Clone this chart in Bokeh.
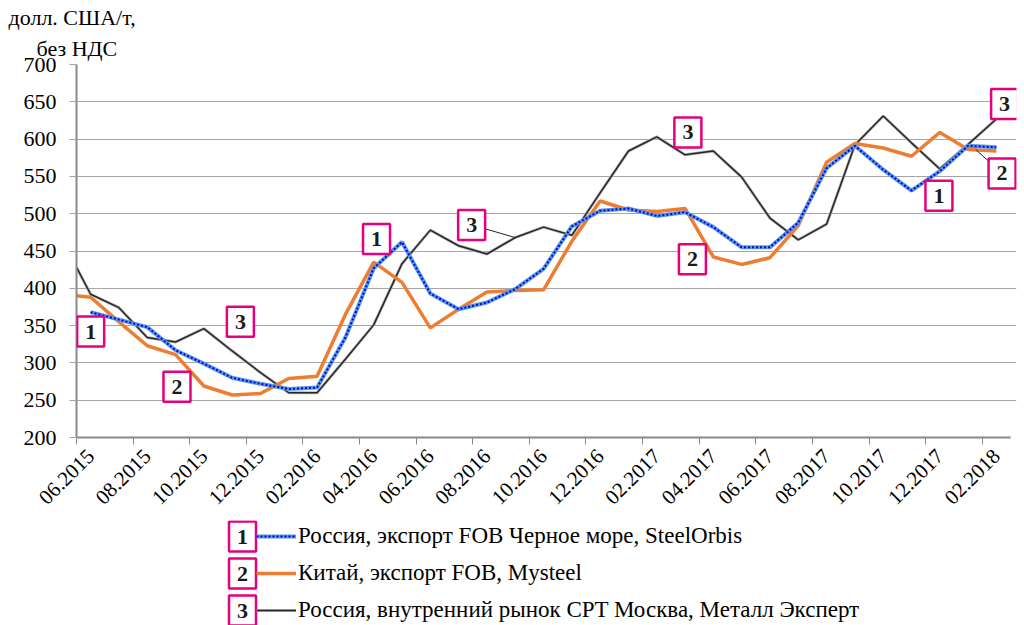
import math
from bokeh.plotting import figure
from bokeh.models import (FixedTicker, Label, Legend, LegendItem, ColumnDataSource, Range1d,
                          Title)
from bokeh.embed import file_html
from bokeh.resources import INLINE

# ---------------- data ----------------
months = ["06.2015", "07.2015", "08.2015", "09.2015", "10.2015", "11.2015", "12.2015",
          "01.2016", "02.2016", "03.2016", "04.2016", "05.2016", "06.2016", "07.2016",
          "08.2016", "09.2016", "10.2016", "11.2016", "12.2016", "01.2017", "02.2017",
          "03.2017", "04.2017", "05.2017", "06.2017", "07.2017", "08.2017", "09.2017",
          "10.2017", "11.2017", "12.2017", "01.2018", "02.2018"]

russia_export = [368, 358, 348, 317, 299, 280, 272, 265, 267, 334, 427, 462, 393, 372, 381,
                 399, 426, 483, 504, 507, 497, 502, 482, 455, 455, 488, 561, 591, 559, 531,
                 557, 591, 589]
china_open = 390
china_export = [388, 355, 323, 311, 269, 257, 259, 279, 282, 365, 435, 408, 347, 372, 395,
                397, 398, 463, 517, 505, 503, 507, 442, 432, 441, 484, 569, 594, 588, 577,
                609, 586, 584]
moscow_open = 428
moscow_domestic = [392, 374, 334, 328, 346, 316, 287, 260, 260, 305, 351, 433, 478, 457, 446,
                   468, 482, 471, 528, 584, 603, 579, 584, 549, 494, 465, 486, 592, 631, 595,
                   560, 593, 627]

series_names = ["Россия, экспорт FOB Черное море, SteelOrbis",
                "Китай, экспорт FOB, Mysteel",
                "Россия, внутренний рынок CPT Москва, Металл Эксперт"]
y_ticks = [200, 250, 300, 350, 400, 450, 500, 550, 600, 650, 700]
unit_lines = ["долл. США/т,", "без НДС"]

# callout boxes: (number, x position, y position)
callouts = [("1", 0.0, 342), ("2", 3.05, 268), ("3", 5.29, 355), ("1", 10.1, 466),
            ("3", 13.46, 485), ("3", 21.1, 609), ("2", 21.26, 439), ("1", 29.97, 524),
            ("3", 32.29, 647), ("2", 32.2, 554)]

FONT = "Liberation Serif"
MAGENTA = "#E5007E"
GRID = "#A6A6A6"
AXIS = "#898989"
C_BLUE_BG, C_BLUE, C_ORANGE, C_DARK, C_SHADOW = "#5B9BD5", "#0000FF", "#ED7D31", "#262626", "#B4B4B4"

W = 1024
n = len(months)
xs = list(range(n))
x_start, x_last = -0.5, n - 0.5


def box_label(x, y, txt):
    return Label(x=x, y=y, text=txt, text_font=FONT, text_font_size="22px",
                 text_font_style="bold", text_color="#1a1a1a", text_align="center",
                 text_baseline="middle", border_line_color=MAGENTA, border_line_width=2.5,
                 background_fill_color="white", padding=8)


# ---------------- main chart ----------------
MAIN_H = 520
p = figure(width=W, height=MAIN_H, output_backend="svg", toolbar_location=None,
           x_range=Range1d(x_start, x_last + 0.21), y_range=Range1d(200, 700),
           min_border_left=76, min_border_right=8, min_border_top=64, min_border_bottom=83)
p.outline_line_color = None

# unit caption above the value axis (first added = closest to the plot area)
p.add_layout(Title(text=unit_lines[1], align="left", offset=-40, standoff=8,
                   text_font=FONT, text_font_size="22px", text_font_style="normal",
                   text_color="black"), "above")
p.add_layout(Title(text=unit_lines[0], align="left", offset=-68, standoff=0,
                   text_font=FONT, text_font_size="22px", text_font_style="normal",
                   text_color="black"), "above")

p.xgrid.grid_line_color = None
p.ygrid.grid_line_color = GRID
p.ygrid.grid_line_width = 1.2
p.ygrid.ticker = FixedTicker(ticks=y_ticks)

p.yaxis.ticker = FixedTicker(ticks=y_ticks)
p.yaxis.axis_line_color = AXIS
p.yaxis.axis_line_width = 2
p.yaxis.major_tick_line_color = GRID
p.yaxis.major_tick_out = 7
p.yaxis.major_tick_in = 0
p.yaxis.minor_tick_line_color = None
p.yaxis.major_label_text_font = FONT
p.yaxis.major_label_text_font_size = "22px"
p.yaxis.major_label_text_color = "black"
p.yaxis.major_label_standoff = 13

label_idx = list(range(0, n, 2))
p.xaxis.ticker = FixedTicker(ticks=label_idx, minor_ticks=[i - 0.5 for i in label_idx])
p.xaxis.bounds = (x_start, x_last)
p.xaxis.major_label_overrides = {i: months[i] for i in label_idx}
p.xaxis.major_label_orientation = math.pi / 4
p.xaxis.major_label_text_font = FONT
p.xaxis.major_label_text_font_size = "21px"
p.xaxis.major_label_text_color = "black"
p.xaxis.major_tick_line_color = None
p.xaxis.minor_tick_line_color = AXIS
p.xaxis.minor_tick_out = 7
p.xaxis.minor_tick_in = 0
p.xaxis.axis_line_color = AXIS
p.xaxis.axis_line_width = 2
p.xaxis.major_label_standoff = 8

src1 = ColumnDataSource(dict(x=xs, y=russia_export))
src2 = ColumnDataSource(dict(x=[x_start] + xs, y=[china_open] + china_export))
src3 = ColumnDataSource(dict(x=[x_start] + xs, y=[moscow_open] + moscow_domestic))

p.line("x", "y", source=src3, line_color=C_SHADOW, line_width=3)
p.line("x", "y", source=src3, line_color=C_DARK, line_width=1.5)
p.line("x", "y", source=src2, line_color=C_ORANGE, line_width=3.5)
p.line("x", "y", source=src1, line_color=C_BLUE_BG, line_width=4)
p.line("x", "y", source=src1, line_color=C_BLUE, line_width=2, line_dash="2 2")

# leader lines from callouts to their lines
p.line([13.46, 15], [485, moscow_domestic[15]], line_color=C_DARK, line_width=1)
p.line([32.2, 31.27], [554, china_export[31]], line_color=C_DARK, line_width=1)

for num, cx, cy in callouts:
    p.add_layout(box_label(cx, cy, num))

# ---------------- legend strip ----------------
LEG_H = 625 - MAIN_H
leg = figure(width=W, height=LEG_H, output_backend="svg", toolbar_location=None,
             x_range=Range1d(0, W), y_range=Range1d(LEG_H, 0),
             x_axis_type=None, y_axis_type=None, min_border=0)
leg.outline_line_color = None
leg.grid.visible = False
nan = [float("nan")]
g1a = leg.line(x=nan, y=nan, line_color=C_BLUE_BG, line_width=4)
g1b = leg.line(x=nan, y=nan, line_color=C_BLUE, line_width=2, line_dash="2 2")
g2 = leg.line(x=nan, y=nan, line_color=C_ORANGE, line_width=3.5)
g3s = leg.line(x=nan, y=nan, line_color=C_SHADOW, line_width=3)
g3 = leg.line(x=nan, y=nan, line_color=C_DARK, line_width=1.5)

legend = Legend(items=[LegendItem(label=series_names[0], renderers=[g1a, g1b]),
                       LegendItem(label=series_names[1], renderers=[g2]),
                       LegendItem(label=series_names[2], renderers=[g3s, g3])],
                location=(256, 2), orientation="vertical",
                glyph_width=40, glyph_height=26, label_height=26, label_standoff=2,
                spacing=11, padding=0, margin=0,
                border_line_color=None, background_fill_alpha=0,
                label_text_font=FONT, label_text_font_size="23px", label_text_color="black")
leg.add_layout(legend, "center")

legend_rows = [16, 53, 90]
for i, ly in enumerate(legend_rows):
    leg.add_layout(box_label(242, ly, str(i + 1)))

open("out.html", "w").write(file_html([p, leg], INLINE))
